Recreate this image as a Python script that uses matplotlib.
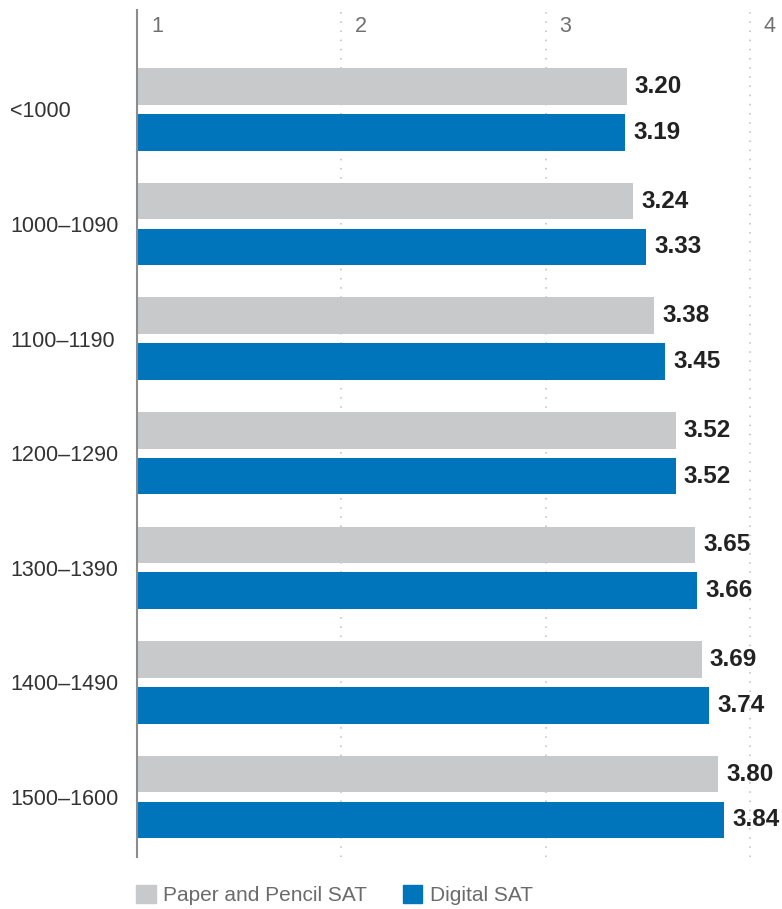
import matplotlib
matplotlib.use('Agg')
import matplotlib.pyplot as plt
import numpy as np
from matplotlib.patches import Patch

score_bands = ['<1000', '1000–1090', '1100–1190', '1200–1290', '1300–1390', '1400–1490', '1500–1600']
paper_gpa = [3.20, 3.24, 3.38, 3.52, 3.65, 3.69, 3.80]
digital_gpa = [3.19, 3.33, 3.45, 3.52, 3.66, 3.74, 3.84]
scale_ticks = [1, 2, 3, 4]

GREY = '#c8c9cb'
BLUE = '#0075bc'

plt.rcParams['font.family'] = ['Liberation Sans', 'DejaVu Sans']

fig = plt.figure(figsize=(7.82, 9.09), dpi=100)
ax = fig.add_axes([0.1752, 0.0572, 0.8248, 0.9318])

# scale axis (drawn behind the bars)
ax2 = ax.twiny()
ax2.set_zorder(ax.get_zorder() - 1)
ax.patch.set_visible(False)
ax2.set_xlim(1, 4.157)
ax2.set_xticks(scale_ticks)
ax2.tick_params(axis='x', length=0, labeltop=False, labelbottom=False)
ax2.grid(axis='x', color='#bdbdbd', linestyle=(0, (1, 5)), linewidth=1.1)
for s in ax2.spines.values():
    s.set_visible(False)
for t in scale_ticks:
    ax2.annotate(str(t), xy=(t, 1), xycoords=('data', 'axes fraction'),
                 xytext=(10, -4), textcoords='offset points', va='top', ha='left',
                 fontsize=15.5, color='#707070')

y = np.arange(len(score_bands))
h = 0.32
off = 0.2
ax.barh(y - off, paper_gpa, height=h, color=GREY, label='Paper and Pencil SAT')
ax.barh(y + off, digital_gpa, height=h, color=BLUE, label='Digital SAT')

for yi, v in zip(y - off, paper_gpa):
    ax.annotate(f'{v:.2f}', xy=(v, yi), xytext=(6, 0), textcoords='offset points',
                va='center', ha='left', fontsize=17.5, fontweight='bold', color='#222222')
for yi, v in zip(y + off, digital_gpa):
    ax.annotate(f'{v:.2f}', xy=(v, yi), xytext=(6, 0), textcoords='offset points',
                va='center', ha='left', fontsize=17.5, fontweight='bold', color='#222222')

ax.set_xlim(0, 4.216)
ax.set_ylim(6.524, -0.868)
ax.set_xticks([])
ax.set_yticks(y)
ax.set_yticklabels(score_bands, fontsize=15.5, color='#333333', ha='left')
ax.tick_params(axis='y', length=0, pad=91.5)

for name in ['top', 'right', 'bottom']:
    ax.spines[name].set_visible(False)
ax.spines['left'].set_color('#8c8c8c')
ax.spines['left'].set_linewidth(1.5)

handles = [Patch(color=GREY, label='Paper and Pencil SAT'),
           Patch(color=BLUE, label='Digital SAT')]
fig.legend(handles=handles, loc='lower left', bbox_to_anchor=(136 / 782, 4 / 909),
           ncol=2, frameon=False, fontsize=15, labelcolor='#6b6b6b',
           handlelength=0.95, handleheight=0.95, handletextpad=0.35,
           columnspacing=1.7, borderpad=0, borderaxespad=0)

fig.savefig('out.png', dpi=100)
